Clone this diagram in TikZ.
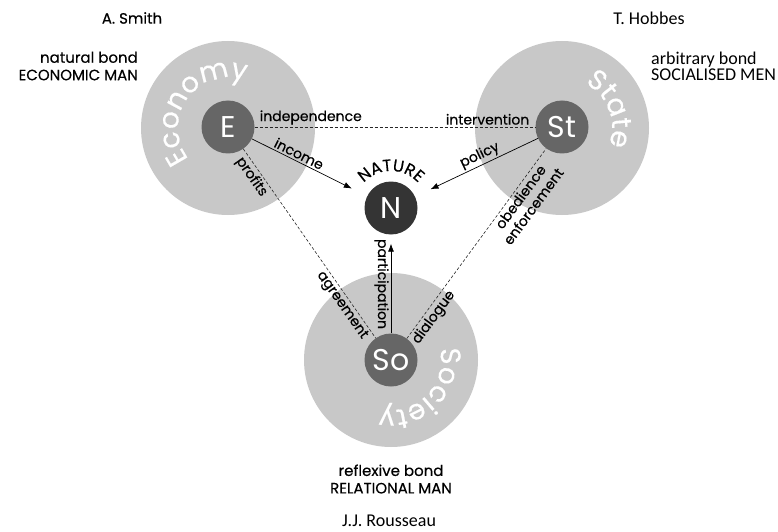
\documentclass[tikz,border=0pt]{standalone}
\usepackage{fontspec}
\setmainfont{Poppins}[BoldFont={Poppins}, BoldFeatures={FakeBold=0.35}]
\newfontfamily\carl{Carlito}
\usetikzlibrary{arrows.meta,decorations.text}
\definecolor{bigfill}{RGB}{200,200,200}
\definecolor{corefill}{RGB}{102,102,102}
\definecolor{natfill}{RGB}{52,52,52}
\newcommand\ecbig{\bfseries\fontsize{28}{28}\selectfont}
\newcommand\ecnat{\bfseries\fontsize{16.5}{16.5}\selectfont}
\newcommand\ecgeo{\bfseries\fontsize{15}{17.5}\selectfont}
\newcommand\echum{\carl\fontsize{18}{16}\selectfont}
\begin{document}
\begin{tikzpicture}[x=1pt,y=1pt,
  bigc/.style={circle, fill=bigfill, minimum size=174pt, inner sep=0pt},
  core/.style={circle, fill=corefill, minimum size=53pt, inner sep=0pt, text=white, font=\fontsize{30}{30}\selectfont},
  lbl/.style={font=\bfseries\fontsize{14}{16}\selectfont, inner sep=2pt},
  dashln/.style={draw=black!85, dash pattern=on 3pt off 2pt, line width=0.6pt},
  arr/.style={-{Latex[length=8pt,width=6pt]}, line width=0.7pt},
  arrl/.style={{Latex[length=8pt,width=6pt]}-, line width=0.7pt},
]
\useasboundingbox (0,0) rectangle (778,531);

% large circles
\node[bigc] (EC) at (228,403) {};
\node[bigc] (SC) at (562,403) {};
\node[bigc] (OC) at (391,171) {};

% curved titles
\begin{scope}[shift={(228,403)}]
\path[decorate, decoration={text along path, text align=center, text={|\ecbig\color{white}|Economy}}]
  (234:50) arc[start angle=234, end angle=54, radius=50];
\end{scope}
\begin{scope}[shift={(562,403)}]
\path[decorate, decoration={text along path, text align=center, text={|\ecbig\color{white}|State}}]
  (111:50) arc[start angle=111, end angle=-69, radius=50];
\end{scope}
\begin{scope}[shift={(391,171)}]
\path[decorate, decoration={text along path, text align=center, text={|\ecbig\color{white}|Society}}]
  (45:50) arc[start angle=45, end angle=-135, radius=50];
\end{scope}
\begin{scope}[shift={(391,323)}]
\path[decorate, decoration={text along path, text align=center, text={|\ecnat|NATURE}}]
  (180:37) arc[start angle=180, end angle=0, radius=37];
\end{scope}

% core nodes
\node[core] (E) at (228,404) {E};
\node[core] (St) at (562,404) {St};
\node[core] (So) at (391,171) {So};
\node[core, fill=natfill] (N) at (391,323) {N};

% connectors
\draw[dashln] (E) -- (St)
  node[lbl, pos=0.2, above] {independence}
  node[lbl, pos=0.83, above] {intervention};
\draw[dashln] (E) -- (So)
  node[lbl, pos=0.12, sloped, below] {profits}
  node[lbl, pos=0.8, sloped, below] {agreement};
\draw[dashln] (So) -- (St)
  node[lbl, pos=0.14, sloped, below] {dialogue}
  node[lbl, pos=0.77, sloped, below, align=center] {obedience\\enforcement};
\draw[arr, shorten >=17pt] (E) -- (N)
  node[lbl, pos=0.38, sloped, above] {income};
\draw[arrl, shorten <=17pt] (N) -- (St)
  node[lbl, pos=0.56, sloped, above] {policy};
\draw[arr, shorten >=9pt] (So) -- (N)
  node[lbl, midway, rotate=-90, anchor=north] {participation};

% side texts
\node[font=\ecgeo] (smith) at (132,513) {A. Smith};
\node[font=\echum] (hobbes) at (649,513) {T. Hobbes};
\node[font=\ecgeo, align=right, anchor=east, inner sep=0pt] (natb) at (138,465) {natural bond\\ECONOMIC MAN};
\node[font=\echum, align=left, anchor=west, inner sep=0pt] (arbb) at (651,465) {arbitrary bond\\SOCIALISED MEN};
\node[font=\ecgeo, align=center, inner sep=0pt] (refb) at (391,52) {reflexive bond\\RELATIONAL MAN};
\node[font=\echum] (rous) at (389,10) {J.J. Rousseau};
\end{tikzpicture}
\end{document}
